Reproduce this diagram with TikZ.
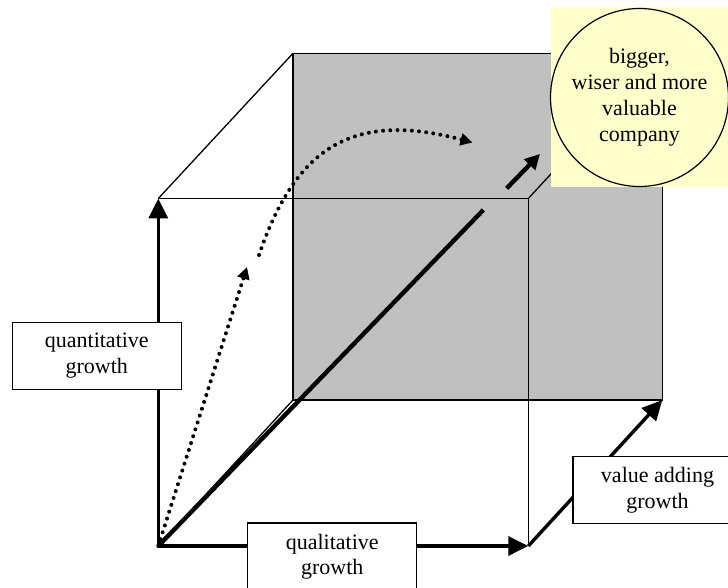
\documentclass[tikz,border=0pt]{standalone}
\usepackage{fontspec}
\setmainfont{Liberation Serif}
\usetikzlibrary{arrows.meta}
\definecolor{facegray}{RGB}{192,192,192}
\definecolor{paleyellow}{RGB}{255,255,204}
\tikzset{
  thinedge/.style={line width=1.3pt, draw=black},
  axisarrow/.style={line width=3.4pt, -{Triangle[length=20pt,width=19pt]}},
  thickline/.style={line width=4.4pt},
  dotline/.style={line width=4pt, line cap=round, dash pattern=on 0pt off 7.2pt},
  labelbox/.style={draw=black, line width=1.2pt, fill=white, minimum width=169pt, minimum height=67pt, inner sep=0pt, align=center, font=\fontsize{22}{25.5}\selectfont},
  goalcircle/.style={circle, draw=black, line width=1.2pt, fill=paleyellow, minimum size=178pt, inner sep=0pt, align=center, font=\fontsize{22}{26}\selectfont}
}
\begin{document}
\begin{tikzpicture}[x=1pt,y=-1pt]
\useasboundingbox (0,0) rectangle (728,588);
\clip (0,0) rectangle (728,588);
% cube corners
\coordinate (O) at (158.3,546);
\coordinate (Ftl) at (158.3,198.5);
\coordinate (Ftr) at (528.3,198.5);
\coordinate (Fbr) at (528.3,546);
\coordinate (Btl) at (293,53.3);
\coordinate (Btr) at (662.3,53.3);
\coordinate (Bbl) at (293,400);
\coordinate (Bbr) at (662.3,400);
% back face
\path[fill=facegray, draw=black, line width=1.3pt] (Btl) rectangle (Bbr);
% thin edges
\draw[thinedge] (Ftl) -- (Btl);
\draw[thinedge] (Ftr) -- (Btr);
\draw[thinedge] (Ftl) -- (Ftr);
\draw[thinedge] (Ftr) -- (Fbr);
\draw[thinedge] (O) -- (Bbl);
% axis arrows
\draw[axisarrow] (O) -- (Ftl);
\draw[axisarrow] (O) -- (Fbr);
\draw[axisarrow] (Fbr) -- (Bbr);
% main diagonal
\coordinate (D1) at (483.3,210);
\coordinate (D2) at (506.7,188.3);
\coordinate (D3) at (540,154);
\draw[thickline] (O) -- (D1);
\draw[thickline, -{Triangle[length=15pt,width=15pt]}] (D2) -- (D3);
% dotted paths
\coordinate (P1) at (247,267);
\coordinate (P2) at (259,255);
\coordinate (P3) at (472.5,142.5);
\draw[dotline, -{Triangle[length=12pt,width=12pt]}] (O) -- (P1);
\draw[dotline, -{Triangle[length=12pt,width=12pt]}] (P2) .. controls (295,150) and (350,110) .. (P3);
% label boxes
\node[labelbox] (quant) at (96.8,355.8) {quantitative\\growth};
\node[labelbox] (qual) at (332.2,556.5) {qualitative\\growth};
\node[labelbox] (valadd) at (657.5,490) {value adding\\growth};
% goal
\fill[paleyellow] (551,7.3) rectangle (731,187.3);
\node[goalcircle] (goal) at (639.5,97.5) {bigger,\\wiser and more\\valuable\\company};
\end{tikzpicture}
\end{document}
